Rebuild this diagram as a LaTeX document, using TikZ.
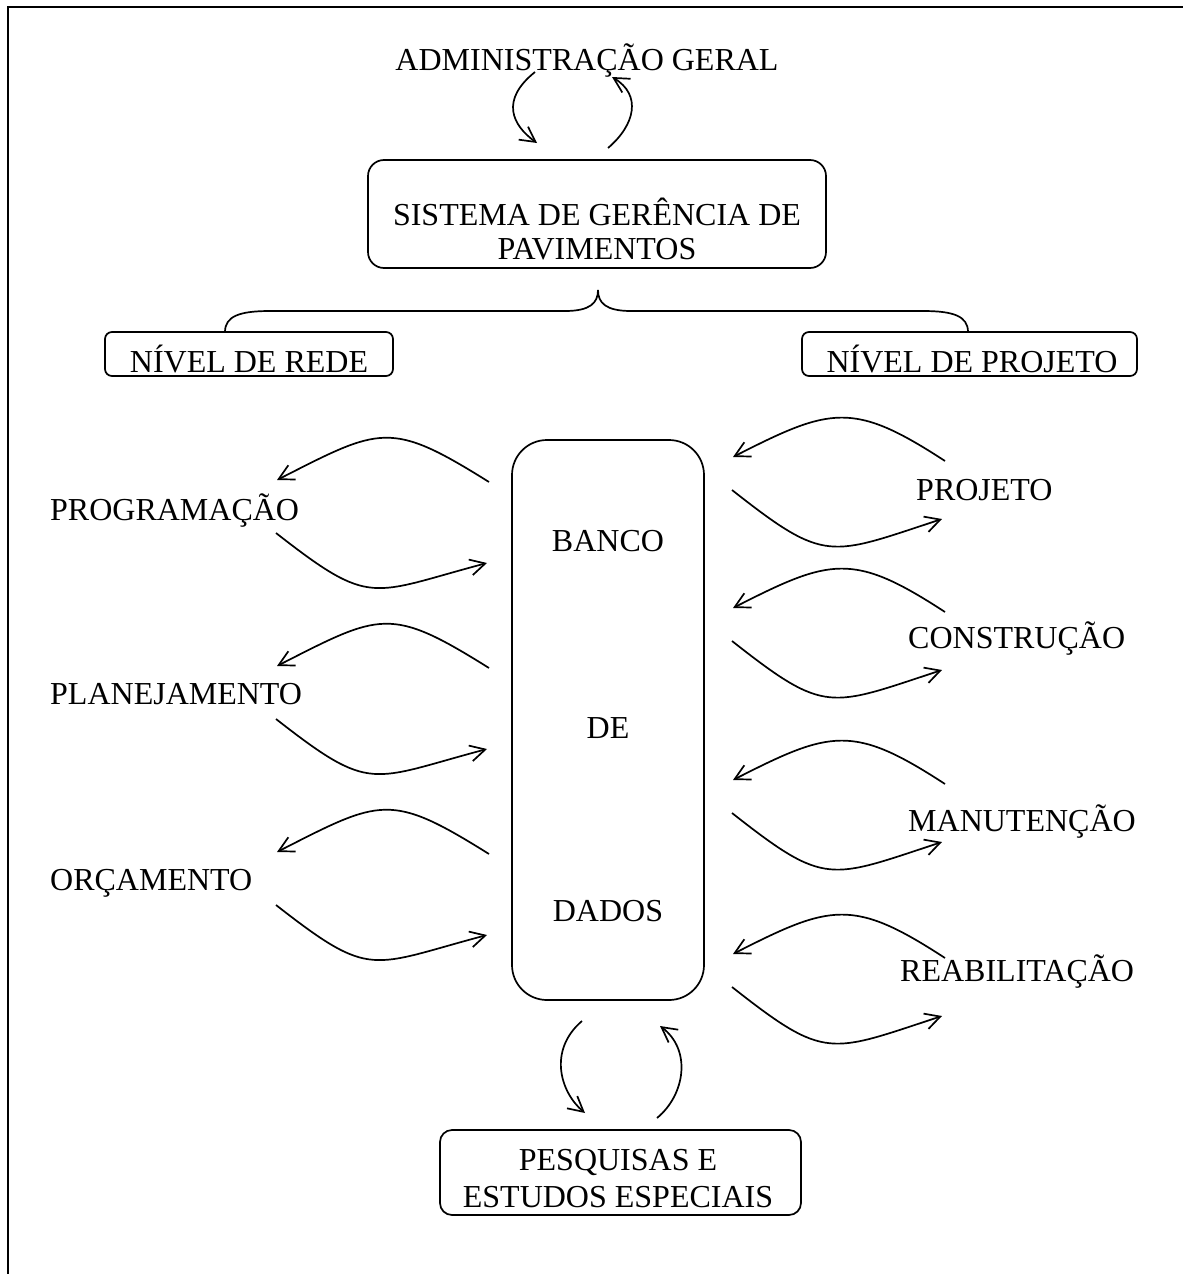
\documentclass[tikz,border=0pt]{standalone}
\usepackage{fontspec}
\setmainfont{Liberation Serif}
\usetikzlibrary{arrows.meta}
\begin{document}
\begin{tikzpicture}[x=1pt,y=-1pt,
  txt/.style={font=\fontsize{32}{36}\selectfont, inner sep=0pt, anchor=base},
  rbox/.style={draw, line width=1.7pt, inner sep=0pt},
  arr/.style={line width=1.7pt, -{Straight Barb[length=15pt,width=16pt]}},
  bracestyle/.style={line width=1.7pt}]
\useasboundingbox (0,0) rectangle (1183,1274);
\fill[white] (0,0) rectangle (1183,1274);
\draw[line width=2.5pt] (1183,7) -- (8,7) -- (8,1274);

% boxes
\node[rbox, rounded corners=16pt, minimum width=458pt, minimum height=108pt] (sgp) at (597,214) {};
\node[rbox, rounded corners=7pt, minimum width=288pt, minimum height=44pt] (rede) at (249,354) {};
\node[rbox, rounded corners=7pt, minimum width=335pt, minimum height=44pt] (proj) at (969.5,354) {};
\node[rbox, rounded corners=35pt, minimum width=192pt, minimum height=560pt] (bd) at (608,720) {};
\node[rbox, rounded corners=12pt, minimum width=361pt, minimum height=85pt] (pesq) at (620.5,1172.5) {};

% texts
\node[txt] (adm) at (587,70) {ADMINISTRAÇÃO GERAL};
\node[txt] (sgp1) at (597,225) {SISTEMA DE GERÊNCIA DE};
\node[txt] (sgp2) at (597,259) {PAVIMENTOS};
\node[txt] (redet) at (249,372) {NÍVEL DE REDE};
\node[txt] (projt) at (972,372) {NÍVEL DE PROJETO};
\node[txt] (bd1) at (608,551) {BANCO};
\node[txt] (bd2) at (608,738) {DE};
\node[txt] (bd3) at (608,921) {DADOS};
\node[txt] (pq1) at (618,1170) {PESQUISAS E};
\node[txt] (pq2) at (618,1207) {ESTUDOS ESPECIAIS};
\node[txt, anchor=base west] (prog) at (50,520) {PROGRAMAÇÃO};
\node[txt, anchor=base west] (plan) at (50,704) {PLANEJAMENTO};
\node[txt, anchor=base west] (orc) at (50,890) {ORÇAMENTO};
\node[txt, anchor=base west] (projeto) at (916,500) {PROJETO};
\node[txt, anchor=base west] (constr) at (908,648) {CONSTRUÇÃO};
\node[txt, anchor=base west] (manut) at (908,831) {MANUTENÇÃO};
\node[txt, anchor=base west] (reab) at (900,981) {REABILITAÇÃO};

% brace
\draw[bracestyle] (225,332) .. controls (225,316) and (240,311) .. (270,311)
  -- (565,311) .. controls (590,311) and (598,303) .. (598,290);
\draw[bracestyle] (968,332) .. controls (968,316) and (953,311) .. (923,311)
  -- (631,311) .. controls (606,311) and (598,303) .. (598,290);

% top arrows
\draw[arr] (535,72) .. controls (500,100) and (512,125) .. (537,143);
\draw[arr] (608,148) .. controls (635,125) and (642,95) .. (612,77);
% bottom arrows
\draw[arr] (582,1021) .. controls (548,1050) and (560,1092) .. (585,1113);
\draw[arr] (657,1118) .. controls (685,1095) and (692,1050) .. (660,1026);

% left groups
\foreach \d in {0,186,372}{
  \draw[arr] (489,482+\d) .. controls (390,420+\d) and (381,427+\d) .. (277,480+\d);
  \draw[arr] (276,533+\d) .. controls (372,608+\d) and (370,594+\d) .. (487,563+\d);
}
% right groups
\foreach \e in {0,151,323,497}{
  \draw[arr] (945,461+\e) .. controls (853,401+\e) and (831,407+\e) .. (733,457+\e);
  \draw[arr] (732,490+\e) .. controls (826,564+\e) and (829,556+\e) .. (942,519+\e);
}
\end{tikzpicture}
\end{document}
